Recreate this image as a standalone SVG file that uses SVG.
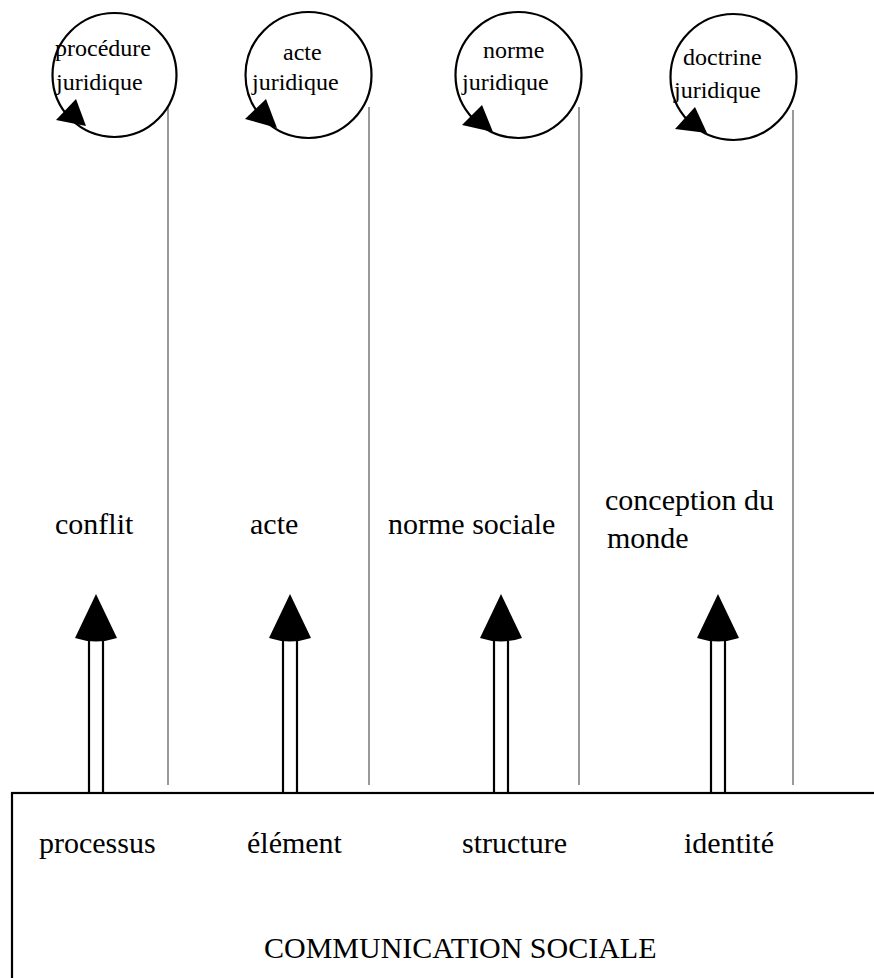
<svg xmlns="http://www.w3.org/2000/svg" width="874" height="978" viewBox="0 0 874 978">
<style>
.t{font-family:"Liberation Serif","Times New Roman",serif;fill:#000}
.c{font-size:24px}
.m{font-size:30px}
.circ{fill:none;stroke:#000;stroke-width:2.2}
.head{fill:#000;stroke:none}
.thin{stroke:#555;stroke-width:1.2;fill:none}
.shaft{stroke:#000;stroke-width:2.2;fill:none}
</style>
<rect width="874" height="978" fill="#fff"/>
<g id="connectors">
  <line class="thin" x1="168" y1="107" x2="168" y2="785"/>
  <line class="thin" x1="369" y1="107" x2="369" y2="785"/>
  <line class="thin" x1="579" y1="107" x2="579" y2="785"/>
  <line class="thin" x1="793" y1="110" x2="793" y2="785"/>
  <g id="arrow1">
    <line class="shaft" x1="89" y1="641" x2="89" y2="793"/>
    <line class="shaft" x1="103" y1="641" x2="103" y2="793"/>
    <path class="head" d="M96,594 L117,638 Q96,645 75,638 Z"/>
  </g>
  <g id="arrow2">
    <line class="shaft" x1="283" y1="641" x2="283" y2="793"/>
    <line class="shaft" x1="297" y1="641" x2="297" y2="793"/>
    <path class="head" d="M290,594 L311,638 Q290,645 269,638 Z"/>
  </g>
  <g id="arrow3">
    <line class="shaft" x1="494" y1="641" x2="494" y2="793"/>
    <line class="shaft" x1="508" y1="641" x2="508" y2="793"/>
    <path class="head" d="M501,594 L522,638 Q501,645 480,638 Z"/>
  </g>
  <g id="arrow4">
    <line class="shaft" x1="711" y1="641" x2="711" y2="793"/>
    <line class="shaft" x1="725" y1="641" x2="725" y2="793"/>
    <path class="head" d="M718,594 L739,638 Q718,645 697,638 Z"/>
  </g>
</g>
<g id="procedure">
  <circle class="circ" cx="114.5" cy="75" r="62"/>
  <polygon class="head" points="56,120 76,99 86,126"/>
  <text class="t c" x="55" y="56">procédure</text>
  <text class="t c" x="56" y="90">juridique</text>
</g>
<g id="acte-juridique">
  <circle class="circ" cx="308.5" cy="75" r="63"/>
  <polygon class="head" points="245,119 266,99 277,128"/>
  <text class="t c" x="283" y="60">acte</text>
  <text class="t c" x="252" y="90">juridique</text>
</g>
<g id="norme-juridique">
  <circle class="circ" cx="518.5" cy="75" r="63"/>
  <polygon class="head" points="462,125 482,105 493,132"/>
  <text class="t c" x="483" y="58">norme</text>
  <text class="t c" x="462" y="90">juridique</text>
</g>
<g id="doctrine">
  <circle class="circ" cx="733.5" cy="77" r="63"/>
  <polygon class="head" points="675,129 695,107 707,133"/>
  <text class="t c" x="683" y="65">doctrine</text>
  <text class="t c" x="674" y="98">juridique</text>
</g>
<g id="conflit"><text class="t m" x="55" y="534">conflit</text></g>
<g id="acte"><text class="t m" x="250" y="534">acte</text></g>
<g id="norme-sociale"><text class="t m" x="388" y="534">norme sociale</text></g>
<g id="conception"><text class="t m" x="605" y="510">conception du</text><text class="t m" x="607" y="548">monde</text></g>
<g id="communication">
  <rect x="12" y="793" width="880" height="220" fill="none" stroke="#000" stroke-width="2.2"/>
  <text class="t m" x="39" y="853">processus</text>
  <text class="t m" x="247" y="853">élément</text>
  <text class="t m" x="462" y="853">structure</text>
  <text class="t m" x="684" y="853">identité</text>
  <text class="t m" x="264" y="958">COMMUNICATION SOCIALE</text>
</g>
</svg>
